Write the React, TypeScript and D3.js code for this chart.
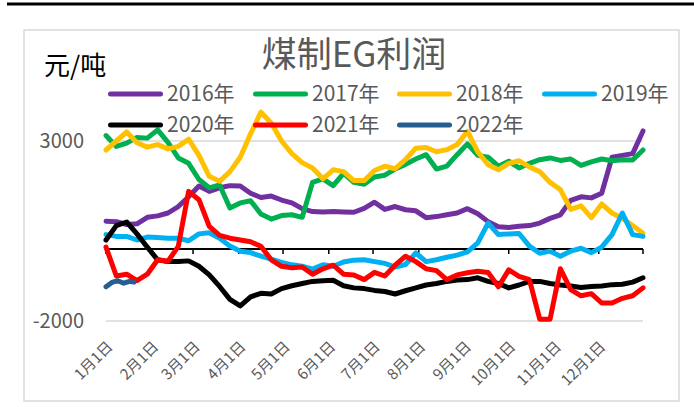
import React, { useEffect, useRef } from 'react';
import * as d3 from 'd3';

// weekly samples from 1 Jan to 31 Dec (元/吨)
const y2016 = [770, 760, 680, 700, 880, 920, 1000, 1180, 1450, 1750, 1600, 1700, 1760, 1750, 1550, 1430, 1470, 1360, 1280, 1120, 1040, 1030, 1040, 1030, 1020, 1130, 1300, 1100, 1180, 1090, 1060, 870, 900, 950, 1000, 1120, 980, 760, 620, 600, 630, 650, 720, 850, 950, 1350, 1450, 1420, 1550, 2550, 2600, 2650, 3280];
const y2017 = [3150, 2850, 2940, 3100, 3080, 3310, 2960, 2530, 2380, 1930, 1700, 1780, 1140, 1280, 1340, 970, 830, 930, 950, 880, 1850, 1950, 1760, 2100, 1850, 1800, 2000, 2050, 2220, 2350, 2500, 2620, 2220, 2300, 2620, 2920, 2600, 2550, 2300, 2440, 2250, 2380, 2480, 2530, 2460, 2500, 2320, 2420, 2500, 2450, 2480, 2470, 2750];
const y2018 = [2750, 3000, 3250, 2950, 2830, 2900, 2780, 2850, 3050, 2600, 2020, 1880, 2150, 2550, 3200, 3800, 3500, 3000, 2650, 2400, 2250, 1950, 2200, 2150, 1900, 1900, 2180, 2300, 2230, 2480, 2800, 2820, 2700, 2760, 2900, 3270, 2700, 2340, 2200, 2380, 2450, 2280, 2150, 1850, 1650, 1100, 1200, 870, 1250, 1000, 850, 650, 440];
const y2019 = [400, 350, 350, 250, 330, 320, 300, 300, 230, 420, 450, 300, 80, -60, -100, -200, -280, -370, -440, -480, -560, -440, -480, -360, -310, -300, -350, -400, -500, -430, -110, -350, -300, -230, -170, -80, 170, 720, 400, 420, 430, 80, -120, -60, -200, -60, 20, -100, 50, 400, 1000, 400, 350];
const y2020 = [250, 650, 750, 420, 50, -300, -350, -350, -330, -480, -720, -1040, -1400, -1580, -1330, -1230, -1250, -1100, -1020, -960, -900, -880, -870, -1020, -1080, -1100, -1150, -1180, -1250, -1160, -1080, -1000, -960, -900, -860, -850, -800, -900, -960, -1080, -1000, -900, -900, -960, -1000, -1030, -1070, -1040, -1030, -990, -980, -920, -800];
const y2021 = [50, -750, -700, -880, -700, -300, -340, 75, 1600, 1370, 630, 380, 300, 250, 200, 75, -300, -480, -520, -500, -700, -550, -450, -700, -720, -850, -650, -750, -450, -200, -350, -550, -600, -850, -720, -660, -620, -650, -1050, -580, -760, -850, -1950, -1950, -550, -1130, -1300, -1240, -1500, -1500, -1370, -1300, -1080];
// 2022 only has the first weeks of January
const days2022 = [0, 4, 8, 12, 16, 19];
const y2022 = [-1050, -930, -880, -950, -900, -920];

const seriesNames = ['2016年', '2017年', '2018年', '2019年', '2020年', '2021年', '2022年'];
const seriesColors = ['#7030A0', '#00B050', '#FFC000', '#00B0F0', '#000000', '#FF0000', '#255E91'];
const monthLabels = ['1月1日', '2月1日', '3月1日', '4月1日', '5月1日', '6月1日', '7月1日', '8月1日', '9月1日', '10月1日', '11月1日', '12月1日'];
const yTicks = [3000, -2000];

const FONT = '"Noto Sans CJK SC", "Noto Sans", sans-serif';

function App() {
    const chartRef = useRef<SVGSVGElement>(null);

    useEffect(() => {
        const svg = d3.select(chartRef.current);
        svg.selectAll('*').remove();

        const width = 694;
        const height = 407;

        svg.append('rect').attr('width', width).attr('height', height).attr('fill', 'white');

        //thick rule on top of the page
        svg.append('line')
            .attr('x1', 7).attr('x2', width)
            .attr('y1', 4).attr('y2', 4)
            .attr('stroke', 'black').attr('stroke-width', 3);

        //chart frame
        svg.append('rect')
            .attr('x', 24).attr('y', 30)
            .attr('width', 655).attr('height', 371)
            .attr('fill', 'white')
            .attr('stroke', '#d9d9d9').attr('stroke-width', 1.5);

        //scales
        const start = new Date(2021, 0, 1);
        const end = new Date(2021, 11, 31);
        const x = d3.scaleTime().domain([start, end]).range([106, 643]);
        const y = d3.scaleLinear().domain([-2000, 4000]).range([321, 105]);

        const weeks = d3.range(y2016.length).map((i) => d3.timeDay.offset(start, i * 7));
        const dates2022 = days2022.map((d) => d3.timeDay.offset(start, d));

        //gridlines
        svg.append('g')
            .selectAll('line')
            .data(yTicks)
            .join('line')
            .attr('x1', 106).attr('x2', 643)
            .attr('y1', (d) => y(d)).attr('y2', (d) => y(d))
            .attr('stroke', '#d9d9d9').attr('stroke-width', 1.5);

        //y labels
        svg.append('g')
            .selectAll('text')
            .data(yTicks)
            .join('text')
            .attr('x', 84)
            .attr('y', (d) => y(d))
            .attr('dy', '0.35em')
            .attr('text-anchor', 'end')
            .style('font-family', FONT)
            .style('font-size', '20px')
            .attr('fill', '#595959')
            .text((d) => d);

        //x axis at zero
        const monthStarts = d3.timeMonth.range(start, end);
        const tickDates = [...monthStarts, end];
        const axis = svg.append('g');
        axis.append('line')
            .attr('x1', 106).attr('x2', 643)
            .attr('y1', y(0)).attr('y2', y(0))
            .attr('stroke', 'black').attr('stroke-width', 2);
        axis.selectAll('.tick')
            .data(tickDates)
            .join('line')
            .attr('class', 'tick')
            .attr('x1', (d) => x(d)).attr('x2', (d) => x(d))
            .attr('y1', y(0)).attr('y2', y(0) + 5)
            .attr('stroke', 'black').attr('stroke-width', 1.5);

        //x labels (rotated)
        svg.append('g')
            .selectAll('text')
            .data(monthStarts)
            .join('text')
            .attr('transform', (d) => 'translate(' + (x(d) + 4) + ',344) rotate(-45)')
            .attr('text-anchor', 'end')
            .attr('dy', '0.35em')
            .style('font-family', FONT)
            .style('font-size', '15px')
            .attr('fill', '#595959')
            .text((d, i) => monthLabels[i]);

        //the lines
        const line = d3.line<[Date, number]>()
            .x((d) => x(d[0]))
            .y((d) => y(d[1]));

        const allSeries = [y2016, y2017, y2018, y2019, y2020, y2021];
        allSeries.forEach((vals, k) => {
            svg.append('path')
                .datum(vals.map((v, i) => [weeks[i], v] as [Date, number]))
                .attr('fill', 'none')
                .attr('stroke', seriesColors[k])
                .attr('stroke-width', 5)
                .attr('stroke-linejoin', 'round')
                .attr('stroke-linecap', 'round')
                .attr('d', line);
        });
        svg.append('path')
            .datum(y2022.map((v, i) => [dates2022[i], v] as [Date, number]))
            .attr('fill', 'none')
            .attr('stroke', seriesColors[6])
            .attr('stroke-width', 5)
            .attr('stroke-linejoin', 'round')
            .attr('stroke-linecap', 'round')
            .attr('d', line);

        //legend, two rows
        const legendX = [108, 253, 397, 542];
        const legendY = [94, 125];
        const legend = svg.append('g')
            .selectAll('g')
            .data(seriesNames)
            .join('g')
            .attr('transform', (d, i) => 'translate(' + legendX[i % 4] + ',' + legendY[Math.floor(i / 4)] + ')');
        legend.append('line')
            .attr('x1', 2.5).attr('x2', 52.5)
            .attr('stroke', (d, i) => seriesColors[i])
            .attr('stroke-width', 5)
            .attr('stroke-linecap', 'round');
        legend.append('text')
            .attr('x', 59)
            .attr('dy', '0.35em')
            .style('font-family', FONT)
            .style('font-size', '21px')
            .attr('fill', '#595959')
            .text((d) => d);

        //title
        svg.append('text')
            .attr('x', 354)
            .attr('y', 67)
            .attr('text-anchor', 'middle')
            .style('font-family', FONT)
            .style('font-size', '35px')
            .attr('fill', '#595959')
            .text('煤制EG利润');

        //unit
        svg.append('text')
            .attr('x', 44)
            .attr('y', 75)
            .style('font-family', FONT)
            .style('font-size', '26px')
            .attr('fill', 'black')
            .text('元/吨');
    }, []);

    return (
        <svg ref={chartRef} width={694} height={407} style={{ position: 'absolute', left: 0, top: 0 }}></svg>
    );
}

export default App;
